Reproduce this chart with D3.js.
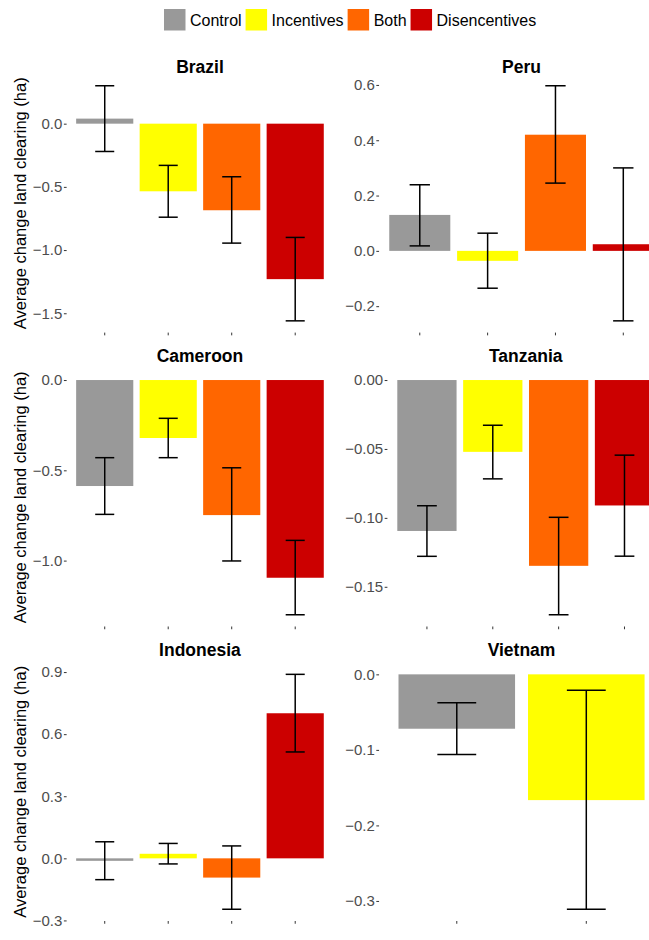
<!DOCTYPE html>
<html>
<head>
<meta charset="utf-8">
<script src="https://cdn.jsdelivr.net/npm/d3@7"></script>
<style>
  body { margin: 0; background: #fff; }
  svg { display: block; font-family: 'Liberation Sans', Arial, sans-serif; }
</style>
</head>
<body>
<svg id="chart" width="649" height="940"></svg>
<script>
// treatments and countries
const treatments = ['Control', 'Incentives', 'Both', 'Disencentives'];
const countries = ['Brazil', 'Peru', 'Cameroon', 'Tanzania', 'Indonesia', 'Vietnam'];

// mean change per country, one value per treatment (Vietnam has two)
const meanChange = [
  [0.04, -0.535, -0.685, -1.23],
  [0.13, -0.036, 0.42, 0.024],
  [-0.587, -0.321, -0.748, -1.095],
  [-0.1095, -0.0521, -0.1348, -0.091],
  [-0.012, 0.022, -0.093, 0.701],
  [-0.072, -0.1665],
];
const ciLower = [
  [-0.22, -0.74, -0.945, -1.56],
  [0.018, -0.135, 0.245, -0.253],
  [-0.744, -0.43, -1.002, -1.3],
  [-0.1279, -0.0717, -0.1703, -0.1278],
  [-0.103, -0.027, -0.246, 0.514],
  [-0.106, -0.311],
];
const ciUpper = [
  [0.3, -0.33, -0.42, -0.9],
  [0.239, 0.064, 0.597, 0.3],
  [-0.43, -0.212, -0.486, -0.888],
  [-0.0912, -0.0328, -0.0996, -0.0545],
  [0.08, 0.072, 0.06, 0.889],
  [-0.0376, -0.021],
];

// y tick labels per panel
const yTicks = [
  [0, -0.5, -1, -1.5],
  [0.6, 0.4, 0.2, 0, -0.2],
  [0, -0.5, -1],
  [0, -0.05, -0.1, -0.15],
  [0.9, 0.6, 0.3, 0, -0.3],
  [0, -0.1, -0.2, -0.3],
];
const yTickFormat = ['.1f', '.1f', '.1f', '.2f', '.1f', '.1f'];

const colors = ['#999999', '#FFFF00', '#FF6600', '#CC0000'];

const svg = d3.select('#chart');

// layout
const rows = [
  { top: 74, bottom: 332.6, title: 72.5 },
  { top: 368.3, bottom: 626.5, title: 361.5 },
  { top: 662.6, bottom: 921, title: 656 },
];
const cols = [
  { labelStart: 32.75, right: 333.3 },
  { labelStart: 345.2, right: 664 },
];
const tickSize = 2.75;
const tickPad = 1.5;

function textWidth(str, size) {
  const t = svg.append('text').attr('font-size', size).text(str);
  const w = t.node().getComputedTextLength();
  t.remove();
  return w;
}

countries.forEach((country, i) => {
  const row = rows[Math.floor(i / 2)];
  const col = cols[i % 2];
  const fmt = d3.format(yTickFormat[i]);
  const labelW = d3.max(yTicks[i], (v) => textWidth(fmt(v), 15));
  const left = col.labelStart + labelW + tickSize + tickPad;

  const means = meanChange[i];
  const lows = ciLower[i];
  const highs = ciUpper[i];
  const cats = treatments.slice(0, means.length);

  const lo = Math.min(0, d3.min(lows), d3.min(means));
  const hi = Math.max(0, d3.max(highs), d3.max(means));
  const pad = (hi - lo) * 0.05;

  const x = d3.scaleBand().domain(cats).range([left, col.right])
    .paddingInner(0.1).paddingOuter(0.15);
  const y = d3.scaleLinear().domain([lo - pad, hi + pad]).range([row.bottom, row.top]);

  const g = svg.append('g').attr('class', 'panel');

  g.selectAll('rect.bar')
    .data(means)
    .join('rect')
    .attr('class', 'bar')
    .attr('x', (d, j) => x(cats[j]))
    .attr('width', x.bandwidth())
    .attr('y', (d) => y(Math.max(0, d)))
    .attr('height', (d) => Math.abs(y(d) - y(0)))
    .attr('fill', (d, j) => colors[j]);

  const capW = x.step() * 0.3;
  const err = g.selectAll('g.err')
    .data(cats)
    .join('g')
    .attr('class', 'err')
    .attr('stroke', '#000')
    .attr('stroke-width', 1.5)
    .attr('fill', 'none');
  err.append('line')
    .attr('x1', (c) => x(c) + x.bandwidth() / 2)
    .attr('x2', (c) => x(c) + x.bandwidth() / 2)
    .attr('y1', (c, j) => y(lows[j]))
    .attr('y2', (c, j) => y(highs[j]));
  err.append('line')
    .attr('x1', (c) => x(c) + x.bandwidth() / 2 - capW / 2)
    .attr('x2', (c) => x(c) + x.bandwidth() / 2 + capW / 2)
    .attr('y1', (c, j) => y(highs[j]))
    .attr('y2', (c, j) => y(highs[j]));
  err.append('line')
    .attr('x1', (c) => x(c) + x.bandwidth() / 2 - capW / 2)
    .attr('x2', (c) => x(c) + x.bandwidth() / 2 + capW / 2)
    .attr('y1', (c, j) => y(lows[j]))
    .attr('y2', (c, j) => y(lows[j]));

  const yAxis = g.append('g')
    .attr('transform', `translate(${left},0)`)
    .call(d3.axisLeft(y).tickValues(yTicks[i]).tickFormat(fmt)
      .tickSize(tickSize).tickPadding(tickPad));
  yAxis.select('.domain').remove();
  yAxis.selectAll('line').attr('stroke', '#333');
  yAxis.selectAll('text').attr('font-size', 15).attr('fill', '#4d4d4d')
    .attr('font-family', null);

  const xAxis = g.append('g')
    .attr('transform', `translate(0,${row.bottom})`)
    .call(d3.axisBottom(x).tickSize(tickSize).tickFormat(''));
  xAxis.select('.domain').remove();
  xAxis.selectAll('line').attr('stroke', '#333');

  g.append('text')
    .attr('x', (left + col.right) / 2)
    .attr('y', row.title)
    .attr('text-anchor', 'middle')
    .attr('font-size', 17.5)
    .attr('font-weight', 'bold')
    .attr('fill', '#000')
    .text(country);

  if (i % 2 === 0) {
    g.append('text')
      .attr('transform', `translate(25.5,${(row.top + row.bottom) / 2}) rotate(-90)`)
      .attr('text-anchor', 'middle')
      .attr('font-size', 16.5)
      .attr('fill', '#000')
      .text('Average change land clearing (ha)');
  }
});

// legend
const legend = svg.append('g').attr('class', 'legend');
let lx = 164;
treatments.forEach((t, j) => {
  legend.append('rect')
    .attr('x', lx).attr('y', 9)
    .attr('width', 21.5).attr('height', 21.5)
    .attr('fill', colors[j]);
  lx += 21.5 + 4.5;
  const txt = legend.append('text')
    .attr('x', lx).attr('y', 25.5)
    .attr('font-size', 16)
    .attr('fill', '#000')
    .text(t);
  lx += txt.node().getComputedTextLength() + 4;
});
</script>
</body>
</html>
